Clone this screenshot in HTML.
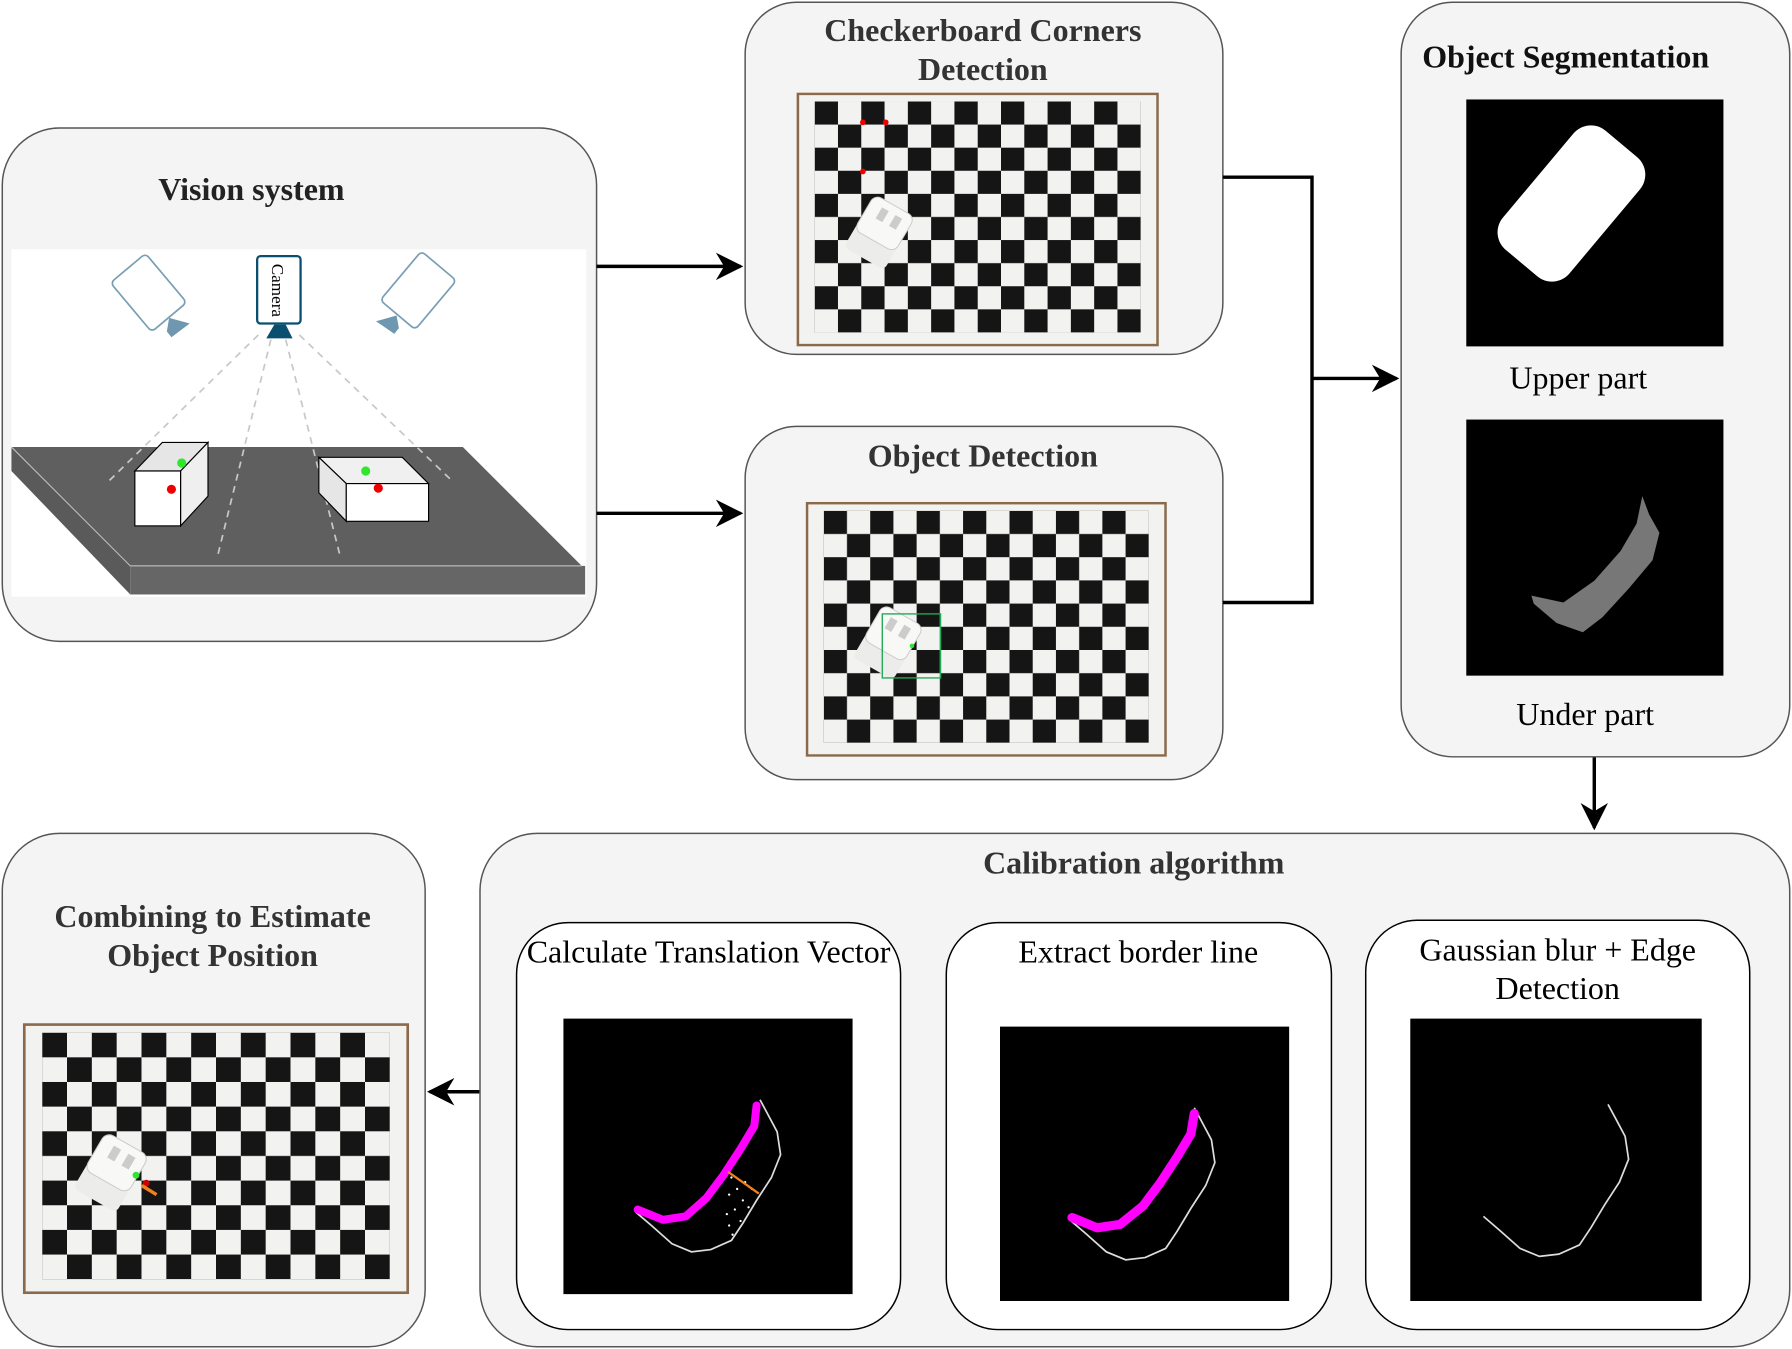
<!DOCTYPE html>
<html><head><meta charset="utf-8"><style>html,body{margin:0;padding:0;background:#fff}svg{display:block}</style></head>
<body>
<svg width="1792" height="1349" viewBox="0 0 1568 1180" preserveAspectRatio="none" xmlns="http://www.w3.org/2000/svg" font-family="Liberation Serif, serif">
<defs>
<pattern id="chk" patternUnits="userSpaceOnUse" x="7" y="3.5" width="18" height="18.2">
<rect x="0" y="0" width="9" height="9.1" fill="#151515"/><rect x="9" y="9.1" width="9" height="9.1" fill="#151515"/>
</pattern>
<symbol id="board" viewBox="0 0 140 100" preserveAspectRatio="none">
<rect width="140" height="100" fill="#8a6a4a"/>
<rect x="1" y="1" width="138" height="98" fill="#f2f2f0"/>
<rect x="7" y="3.5" width="126" height="91" fill="url(#chk)"/>
<g transform="translate(32,55) rotate(30)">
<rect x="-9" y="-10" width="18" height="22" rx="2" fill="#ececea"/>
<rect x="-9" y="-12" width="18" height="16" rx="3" fill="#f8f8f6" stroke="#ccc" stroke-width="0.4"/>
<rect x="-4" y="-9" width="3" height="5" fill="#ccc"/><rect x="2" y="-9" width="3" height="5" fill="#ccc"/>
</g>
</symbol>
</defs>
<marker id="ah" viewBox="0 0 10 10" refX="9" refY="5" markerWidth="8" markerHeight="8" orient="auto"><path d="M0,0 L10,5 L0,10 L3,5z" fill="#000"/></marker>

<!-- Vision system -->
<rect x="2" y="112" width="520" height="449" rx="50" fill="#f4f4f4" stroke="#555" stroke-width="1.3"/>
<text x="220" y="175" font-size="28" font-weight="bold" text-anchor="middle" fill="#222">Vision system</text>
<rect x="10" y="218" width="503" height="304" fill="#fff"/>
<polygon points="10,391 405,391 509,495 114,495" fill="#5f5f5f"/>
<polygon points="10,391 114,495 114,520 10,412" fill="#5a5a5a"/>
<rect x="114" y="495" width="398" height="25" fill="#666"/>
<line x1="10" y1="391" x2="114" y2="495" stroke="#ccc" stroke-width="0.8"/>
<line x1="114" y1="495" x2="509" y2="495" stroke="#ccc" stroke-width="0.8"/>
<g stroke="#c8c8c8" stroke-width="1.5" stroke-dasharray="6,5">
<line x1="226" y1="293" x2="95" y2="421"/><line x1="237" y1="297" x2="190" y2="488"/>
<line x1="250" y1="297" x2="298" y2="488"/><line x1="262" y1="293" x2="396" y2="421"/>
</g>
<g stroke="#000" stroke-width="1">
<polygon points="118,412 142,387 182,387 158,412" fill="#e6e6e6"/>
<polygon points="158,412 182,387 182,434 158,460" fill="#efefef"/>
<rect x="118" y="412" width="40" height="48" fill="#fff"/>
<polygon points="279,400 352,400 375,423 303,423" fill="#f0f0f0"/>
<polygon points="279,400 303,423 303,456 279,431" fill="#e6e6e6"/>
<rect x="303" y="423" width="72" height="33" fill="#fff"/>
</g>
<circle cx="159" cy="405" r="4" fill="#2ee62e"/><circle cx="150" cy="428" r="4" fill="#e00"/>
<circle cx="320" cy="412" r="4" fill="#2ee62e"/><circle cx="331" cy="427" r="4" fill="#e00"/>
<rect x="225" y="224" width="38" height="59" rx="3" fill="#fff" stroke="#0b4f70" stroke-width="2"/>
<text transform="translate(238,254) rotate(90)" font-size="15" text-anchor="middle">Camera</text>
<polygon points="240,284 250,284 256,296 233,296" fill="#0b4f70"/>
<g transform="translate(130,256) rotate(-40)"><rect x="-20" y="-28" width="40" height="56" rx="4" fill="#fff" stroke="#7a9fb5" stroke-width="1.5"/></g>
<polygon points="148,278 166,283 150,295 146,290" fill="#6f98b0"/>
<g transform="translate(366,254) rotate(40)"><rect x="-20" y="-28" width="40" height="56" rx="4" fill="#fff" stroke="#7a9fb5" stroke-width="1.5"/></g>
<polygon points="347,276 329,281 345,292 349,287" fill="#6f98b0"/>

<!-- Checkerboard corners -->
<rect x="652" y="2" width="418" height="308" rx="45" fill="#f4f4f4" stroke="#555" stroke-width="1.3"/>
<text x="860" y="36" font-size="28" font-weight="bold" text-anchor="middle" fill="#333">Checkerboard Corners</text>
<text x="860" y="70" font-size="28" font-weight="bold" text-anchor="middle" fill="#333">Detection</text>
<use href="#board" x="697" y="81" width="317" height="222"/>
<circle cx="755" cy="107" r="2.5" fill="#e00"/><circle cx="775" cy="107" r="2.5" fill="#e00"/><circle cx="755" cy="150" r="2.5" fill="#e00"/>

<!-- Object detection -->
<rect x="652" y="373" width="418" height="309" rx="45" fill="#f4f4f4" stroke="#555" stroke-width="1.3"/>
<text x="860" y="408" font-size="28" font-weight="bold" text-anchor="middle" fill="#333">Object Detection</text>
<use href="#board" x="705" y="439" width="316" height="223"/>
<rect x="772" y="537" width="51" height="56" fill="none" stroke="#1faa55" stroke-width="1.2"/>
<circle cx="798" cy="565" r="2" fill="#2ee62e"/>

<!-- connectors -->
<g stroke="#000" stroke-width="3" fill="none">
<line x1="522" y1="233" x2="648" y2="233" marker-end="url(#ah)"/>
<line x1="522" y1="449" x2="648" y2="449" marker-end="url(#ah)"/>
<polyline points="1070,155 1148,155 1148,527 1070,527"/>
<line x1="1148" y1="331" x2="1222" y2="331" marker-end="url(#ah)"/>
<line x1="1395" y1="662" x2="1395" y2="724" marker-end="url(#ah)"/>
<line x1="420" y1="955" x2="376" y2="955" marker-end="url(#ah)"/>
</g>

<!-- Segmentation -->
<rect x="1226" y="2" width="340" height="660" rx="45" fill="#f4f4f4" stroke="#555" stroke-width="1.3"/>
<text x="1370" y="59" font-size="28" font-weight="bold" text-anchor="middle" fill="#111">Object Segmentation</text>
<rect x="1283" y="87" width="225" height="216" fill="#000"/>
<g transform="translate(1375,178) rotate(-50)"><rect x="-68" y="-38" width="136" height="76" rx="20" fill="#fff"/></g>
<text x="1381" y="340" font-size="28" text-anchor="middle">Upper part</text>
<rect x="1283" y="367" width="225" height="224" fill="#000"/>
<path d="M1437,434 L1443,450 L1452,466 L1446,490 L1425,515 L1402,540 L1385,553 L1362,545 L1342,528 L1340,521 L1368,527 L1395,508 L1418,482 L1432,458 Z" fill="#777"/>
<text x="1387" y="634" font-size="28" text-anchor="middle">Under part</text>

<!-- Calibration -->
<rect x="420" y="729" width="1146" height="449" rx="50" fill="#f4f4f4" stroke="#555" stroke-width="1.3"/>
<text x="992" y="764" font-size="28" font-weight="bold" text-anchor="middle" fill="#333">Calibration algorithm</text>
<rect x="452" y="807" width="336" height="356" rx="45" fill="#fff" stroke="#000" stroke-width="1.3"/>
<rect x="828" y="807" width="337" height="356" rx="45" fill="#fff" stroke="#000" stroke-width="1.3"/>
<rect x="1195" y="805" width="336" height="358" rx="45" fill="#fff" stroke="#000" stroke-width="1.3"/>
<text x="620" y="842" font-size="28" text-anchor="middle">Calculate Translation Vector</text>
<text x="996" y="842" font-size="28" text-anchor="middle">Extract border line</text>
<text x="1363" y="840" font-size="28" text-anchor="middle">Gaussian blur + Edge</text>
<text x="1363" y="874" font-size="28" text-anchor="middle">Detection</text>
<rect x="493" y="891" width="253" height="241" fill="#000"/>
<rect x="875" y="898" width="253" height="240" fill="#000"/>
<rect x="1234" y="891" width="255" height="247" fill="#000"/>
<path id="ol" d="M665,962 L672,975 L680,990 L683,1010 L675,1030 L662,1050 L650,1070 L640,1085 L622,1093 L605,1095 L588,1088 L570,1072 L556,1060" fill="none" stroke="#ddd" stroke-width="1.5"/>
<path d="M662,967 L660,985 L648,1005 L633,1028 L618,1048 L600,1064 L580,1067 L558,1058" fill="none" stroke="#f0f" stroke-width="7" stroke-linecap="round" stroke-linejoin="round"/>
<g fill="#fff"><circle cx="640" cy="1030" r="1"/><circle cx="645" cy="1040" r="1"/><circle cx="650" cy="1050" r="1"/><circle cx="638" cy="1045" r="1"/><circle cx="643" cy="1058" r="1"/><circle cx="636" cy="1062" r="1"/><circle cx="652" cy="1034" r="1"/><circle cx="658" cy="1040" r="1"/><circle cx="638" cy="1072" r="1"/><circle cx="641" cy="1080" r="1"/><circle cx="648" cy="1068" r="1"/><circle cx="655" cy="1056" r="1"/></g>
<line x1="637" y1="1025" x2="664" y2="1044" stroke="#f08020" stroke-width="2"/>
<g transform="translate(380,7)"><use href="#ol"/>
<path d="M665,967 L662,985 L650,1005 L635,1028 L620,1048 L600,1064 L580,1067 L558,1058" fill="none" stroke="#f0f" stroke-width="8" stroke-linecap="round" stroke-linejoin="round"/></g>
<g transform="translate(742,4)"><use href="#ol"/></g>

<!-- Combining -->
<rect x="2" y="729" width="370" height="449" rx="50" fill="#f4f4f4" stroke="#555" stroke-width="1.3"/>
<text x="186" y="811" font-size="28" font-weight="bold" text-anchor="middle" fill="#333">Combining to Estimate</text>
<text x="186" y="845" font-size="28" font-weight="bold" text-anchor="middle" fill="#333">Object Position</text>
<use href="#board" x="20" y="895" width="338" height="237"/>
<circle cx="119" cy="1028" r="3" fill="#2ee62e"/><circle cx="128" cy="1035" r="3" fill="#c00"/>
<line x1="124" y1="1037" x2="137" y2="1045" stroke="#f08020" stroke-width="3"/>
</svg>
</body></html>
